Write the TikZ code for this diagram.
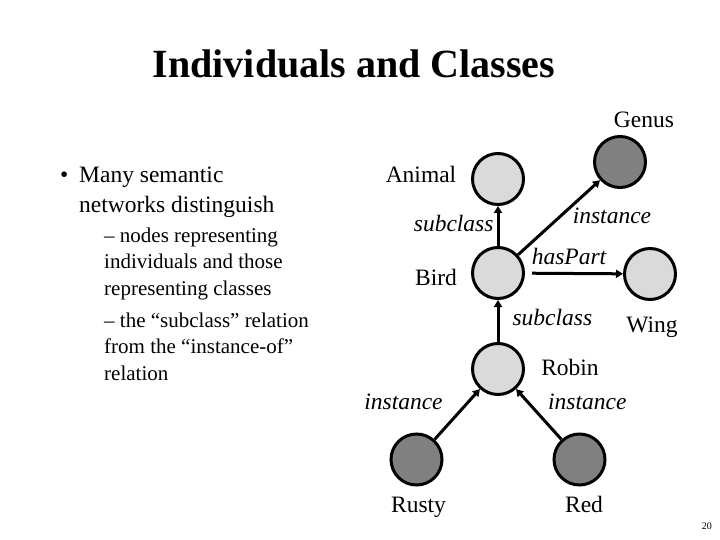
\documentclass[tikz,border=0pt]{standalone}
\usepackage{fontspec}
\setmainfont{Liberation Serif}
\usetikzlibrary{arrows.meta,positioning}
\definecolor{classfill}{HTML}{DADADA}
\definecolor{indivfill}{HTML}{808080}

\begin{document}
\begin{tikzpicture}[x=1pt, y=-1pt,
  class/.style={draw, circle, line width=3pt, minimum size=51pt, inner sep=0pt, fill=classfill},
  indiv/.style={class, fill=indivfill},
  lbl/.style={font=\fontsize{23.5}{28}\selectfont, inner sep=0pt, anchor=base},
  rel/.style={font=\fontsize{23.5}{28}\selectfont\itshape, inner sep=0pt},
  body/.style={font=\fontsize{23.5}{29}\selectfont, inner sep=0pt, align=left, anchor=base west},
  sub/.style={font=\fontsize{21}{26.5}\selectfont, inner sep=0pt, align=left, anchor=base west},
  arr/.style={-{Triangle[length=7pt, width=8pt]}, line width=3pt}
]
  \useasboundingbox (0,0) rectangle (720,540);

  % title and text on the left (base = last line)
  \node[font=\bfseries\fontsize{40}{48}\selectfont, anchor=base] (title) at (354,78) {Individuals and Classes};
  \node[body] (bull) at (60,183) {\textbullet};
  \node[body] (item) at (79,212) {Many semantic\\networks distinguish};
  \node[sub] (subone) at (104,295) {– nodes representing\\individuals and those\\representing classes};
  \node[sub] (subtwo) at (104,380) {– the “subclass” relation\\from the “instance-of”\\relation};
  \node[font=\fontsize{10}{12}\selectfont, inner sep=0pt, anchor=base east] (pageno) at (712,529) {20};

  % the network
  \node[class] (animal) at (498,179) {};
  \node[indiv] (genus) at (620,162) {};
  \node[class] (bird) at (498,273) {};
  \node[class] (wing) at (650,274) {};
  \node[class] (robin) at (498,369) {};
  \node[indiv] (rusty) at (416.5,459.5) {};
  \node[indiv] (red) at (579.5,459.5) {};

  \node[lbl] (genustxt) at (644,128) {Genus};
  \node[lbl] (animaltxt) at (421,183) {Animal};
  \node[lbl] (birdtxt) at (436,285) {Bird};
  \node[lbl] (wingtxt) at (652,332) {Wing};
  \node[lbl] (robintxt) at (570,375) {Robin};
  \node[lbl] (rustytxt) at (418.5,512) {Rusty};
  \node[lbl] (redtxt) at (584,512) {Red};

  \draw[arr] (bird) -- node[rel, left=3pt, yshift=3pt] {subclass} (animal);
  \draw[arr] (bird) -- node[rel, pos=0.65, anchor=north west] {instance} (genus);
  \draw[arr, shorten <=7pt] (bird) -- node[rel, above=7pt, xshift=-5pt] {hasPart} (wing);
  \draw[arr] (robin) -- node[rel, right=13pt, yshift=4pt] {subclass} (bird);
  \draw[arr] (rusty) -- node[rel, pos=0.74, left=24pt] {instance} (robin);
  \draw[arr] (red) -- node[rel, pos=0.745, right=19pt] {instance} (robin);
\end{tikzpicture}
\end{document}
